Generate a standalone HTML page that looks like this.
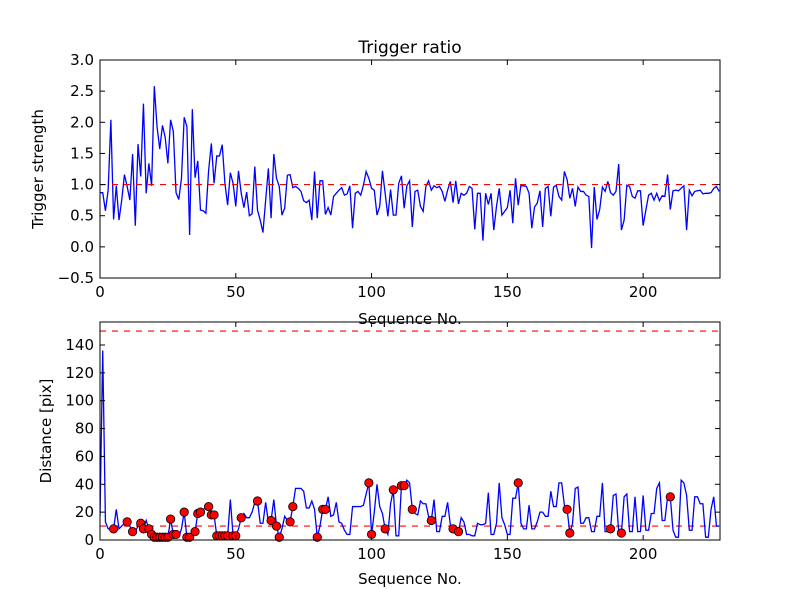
<!DOCTYPE html>
<html><head><meta charset="utf-8"><style>
body{margin:0;background:#fff}
svg{display:block}
text{font-family:"DejaVu Sans","Liberation Sans",sans-serif;fill:#000}
</style></head><body>
<svg id="chart" width="800" height="600" viewBox="0 0 800 600" xmlns="http://www.w3.org/2000/svg">
<rect width="800" height="600" fill="#fff"/>
<text x="410" y="53" font-size="17" text-anchor="middle">Trigger ratio</text>
<g id="top"></g>
<g id="bot"></g>
<text x="410" y="324" font-size="15" text-anchor="middle">Sequence No.</text>
<text x="410" y="584" font-size="15" text-anchor="middle">Sequence No.</text>
<text transform="translate(43,169) rotate(-90)" font-size="15" text-anchor="middle">Trigger strength</text>
<text transform="translate(51,431) rotate(-90)" font-size="15" text-anchor="middle">Distance [pix]</text>
</svg>
<script>
const xTicks=[0,50,100,150,200];
const topYTicks=[-0.5,0,0.5,1,1.5,2,2.5,3];
const topYLabels=["\u22120.5","0.0","0.5","1.0","1.5","2.0","2.5","3.0"];
const botYTicks=[0,20,40,60,80,100,120,140];
const topThreshold=[1.0];
const botThresholds=[10,150];
const triggerStrength=[0.87,0.87,0.58,0.91,2.04,0.44,0.98,0.43,0.75,1.16,0.97,0.75,1.49,0.34,1.65,1.13,2.30,0.86,1.34,0.98,2.58,1.93,1.57,1.95,1.76,1.34,2.04,1.85,0.87,0.76,1.10,2.08,1.93,0.19,2.21,1.11,1.38,0.59,0.58,0.54,1.23,1.66,1.02,1.46,1.46,1.64,1.02,0.67,1.19,1.02,0.65,1.22,0.86,0.63,0.88,0.50,0.53,1.29,
0.59,0.43,0.23,0.75,1.26,0.46,1.49,1.10,0.97,0.51,0.62,1.15,1.16,0.95,0.97,0.94,0.89,0.74,0.71,0.75,0.43,1.21,0.46,1.06,1.06,0.52,0.63,0.51,0.81,0.86,0.91,0.95,0.83,0.85,0.98,0.30,0.86,0.89,0.83,0.99,1.21,1.10,0.94,0.91,0.51,0.65,1.22,0.86,0.49,0.92,0.51,0.51,1.02,1.14,0.62,0.98,1.06,0.32,
0.89,0.91,0.65,0.57,0.97,1.06,0.91,0.98,0.95,0.97,0.89,0.73,0.91,1.05,0.71,1.06,0.69,0.86,0.83,0.86,0.97,0.94,0.28,0.86,0.86,0.10,0.86,0.68,0.86,0.27,0.65,0.94,0.51,0.57,0.63,0.91,0.38,1.10,0.67,0.99,0.98,0.97,0.86,0.30,0.64,0.70,0.90,0.32,0.94,0.97,0.49,0.96,0.99,0.81,0.75,1.21,1.08,
0.78,0.94,0.65,0.96,0.89,0.89,0.83,0.81,-0.02,0.96,0.44,0.60,0.96,0.89,1.05,0.87,0.83,0.89,1.33,0.27,0.43,0.99,0.97,0.81,0.78,0.90,0.90,0.34,0.59,0.83,0.86,0.75,0.86,0.74,0.82,0.81,1.16,0.60,0.90,0.91,0.90,0.94,0.98,0.27,0.91,0.82,0.89,0.90,0.91,0.85,0.86,0.86,0.87,0.94,0.97,0.89];
const distance=[17,136,13,8,8,8,22,8,10,12,13,10,6,6,10,12,8,14,8,4,2,2,2,2,2,2,15,4,4,2,8,20,2,2,4,6,19,20,22,23,24,18,18,3,3,3,3,3,29,3,3,8,16,19,16,16,20,27,28,
12,12,27,13,14,29,10,2,8,17,14,13,24,37,37,37,35,23,23,28,22,2,10,22,22,31,17,18,27,13,12,7,4,4,24,24,24,24,25,33,41,4,20,40,24,19,8,4,26,36,3,3,39,39,43,41,22,
19,18,28,26,26,17,14,29,6,6,17,17,27,11,8,10,6,16,13,4,4,3,3,12,11,11,12,34,4,4,12,41,16,11,4,4,30,30,41,12,8,8,25,8,8,13,20,20,17,17,35,24,24,41,41,25,22,5,
12,37,38,12,12,16,16,6,6,17,17,41,6,6,8,32,33,6,5,31,33,6,6,31,6,6,32,7,7,19,19,37,41,14,14,31,31,7,2,2,43,41,32,7,7,31,31,26,26,2,2,22,31,10,10];
const markerIdx=[5,10,12,15,16,18,19,20,21,22,23,24,25,26,27,28,31,32,33,35,36,37,40,41,42,43,44,45,46,47,49,50,52,58,63,65,66,70,71,80,82,83,99,100,105,108,111,112,115,122,130,132,154,172,173,188,192,210];

const NS="http://www.w3.org/2000/svg";
function mk(tag,attrs,parent){const e=document.createElementNS(NS,tag);for(const k in attrs)e.setAttribute(k,attrs[k]);parent.appendChild(e);return e;}
const L=100,R=720,XMAX=228.3;
function sx(v){return L+(v/XMAX)*(R-L);}

function panel(g,T,B,ymin,ymax,yTicks,yLabels,prefix){
  const sy=v=>B-(v-ymin)/(ymax-ymin)*(B-T);
  return sy;
}
function frame(g,T,B,sy,yTicks,yLabels,prefix){
  const fr=mk('rect',{x:L,y:T,width:R-L,height:B-T,fill:'none',stroke:'#000','stroke-width':1},g);
  
  
  xTicks.forEach(t=>{
    const x=sx(t);
    const a=mk('line',{x1:x,y1:B,x2:x,y2:B-5,stroke:'#000'},g);
    
    
    const b=mk('line',{x1:x,y1:T,x2:x,y2:T+5,stroke:'#000'},g);
    
    
    const tx=mk('text',{x:x,y:B+19,'font-size':15,'text-anchor':'middle'},g);
    tx.textContent=String(t);
    
    
  });
  yTicks.forEach((t,i)=>{
    const y=sy(t);
    const a=mk('line',{x1:L,y1:y,x2:L+5,y2:y,stroke:'#000'},g);
    
    
    const b=mk('line',{x1:R,y1:y,x2:R-5,y2:y,stroke:'#000'},g);
    
    
    const tx=mk('text',{x:L-6,y:y+5,'font-size':15,'text-anchor':'end'},g);
    tx.textContent=yLabels?yLabels[i]:String(t);
    
    
  });
}
// top panel
const gT=document.getElementById('top');
const syT=v=>278-(v+0.5)/3.5*218;
const clipT=mk('clipPath',{id:'cT'},gT);mk('rect',{x:L,y:60,width:R-L,height:218},clipT);
const lineT=mk('path',{d:triggerStrength.map((v,i)=>(i?'L':'M')+sx(i).toFixed(2)+','+syT(v).toFixed(2)).join(''),fill:'none',stroke:'#0000ff','stroke-width':1.3,'clip-path':'url(#cT)'},gT);


topThreshold.forEach(t=>{
  const d=mk('line',{x1:L,x2:R,y1:syT(t),y2:syT(t),stroke:'#ff0000','stroke-width':1.2,'stroke-dasharray':'6,6'},gT);
  
  
});
frame(gT,60,278,syT,topYTicks,topYLabels,'top');
// bottom panel
const gB=document.getElementById('bot');
const syB=v=>540-v/156.5*218;
const clipB=mk('clipPath',{id:'cB'},gB);mk('rect',{x:L,y:322,width:R-L,height:218},clipB);
botThresholds.forEach(t=>{
  const d=mk('line',{x1:L,x2:R,y1:syB(t),y2:syB(t),stroke:'#ff0000','stroke-width':1.2,'stroke-dasharray':'6,6'},gB);
  
  
});
const lineB=mk('path',{d:distance.map((v,i)=>(i?'L':'M')+sx(i).toFixed(2)+','+syB(v).toFixed(2)).join(''),fill:'none',stroke:'#0000ff','stroke-width':1.3,'clip-path':'url(#cB)'},gB);


markerIdx.forEach(i=>{
  const c=mk('circle',{cx:sx(i),cy:syB(distance[i]),r:4.2,fill:'#ff0000',stroke:'#000','stroke-width':0.8},gB);
  
  
});
frame(gB,322,540,syB,botYTicks,null,'bottom');
</script>
</body></html>
